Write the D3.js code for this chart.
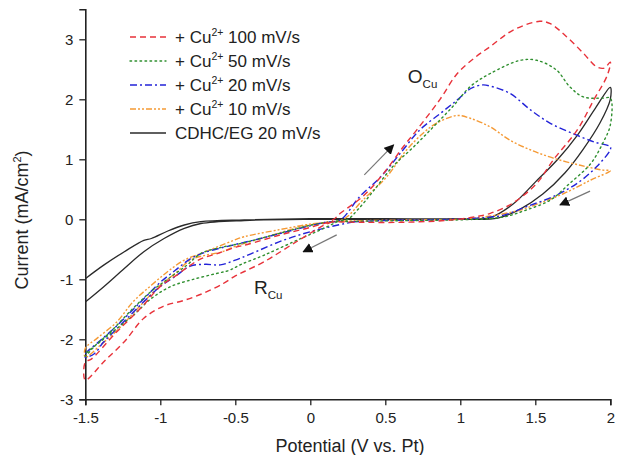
<!DOCTYPE html>
<html>
<head>
<meta charset="utf-8">
<script src="https://cdn.jsdelivr.net/npm/d3@7/dist/d3.min.js"></script>
<style>
    body { margin: 0; background: #fff; }
    svg text { font-family: "Liberation Sans", Arial, sans-serif; }
</style>
</head>
<body>
<div id="chart"></div>
<script>
// Cyclic voltammograms, [potential V, current mA/cm2] in scan order
const red100 = [
    [0.15, -0.04], [0.09, -0.1], [-0.09, -0.37], [-0.31, -0.71], [-0.44, -0.87], [-0.51, -0.96],
    [-0.58, -1.07], [-0.71, -1.23], [-0.84, -1.35], [-0.98, -1.45], [-1.11, -1.65], [-1.24, -2.04],
    [-1.375, -2.37], [-1.5, -2.68],
    [-1.5, -2.38], [-1.46, -2.33], [-1.3, -1.9], [-1.13, -1.48], [-1.0, -1.12], [-0.89, -0.93],
    [-0.82, -0.8], [-0.73, -0.66], [-0.62, -0.57], [-0.49, -0.46], [-0.42, -0.42], [-0.2, -0.26],
    [0.02, -0.12], [0.15, -0.01],
    [0.2, 0.1], [0.35, 0.38], [0.49, 0.77], [0.62, 1.21], [0.71, 1.49], [0.865, 2.0], [0.98, 2.43],
    [1.1, 2.7], [1.2, 2.88], [1.35, 3.15], [1.53, 3.3], [1.6, 3.26], [1.71, 3.04], [1.82, 2.77],
    [1.91, 2.54], [1.96, 2.52], [2.0, 2.62],
    [1.98, 2.4], [1.89, 1.99], [1.78, 1.49], [1.62, 0.99], [1.51, 0.6], [1.35, 0.27], [1.2, 0.1],
    [1.07, 0.03], [0.9, -0.02], [0.6, -0.05], [0.35, -0.05], [0.15, -0.04]
];
const green50 = [
    [0.18, -0.04], [0.09, -0.15], [-0.09, -0.35], [-0.31, -0.6], [-0.46, -0.75], [-0.54, -0.85],
    [-0.62, -0.9], [-0.78, -1.0], [-0.93, -1.12], [-1.06, -1.32], [-1.18, -1.6], [-1.29, -1.82],
    [-1.4, -2.04], [-1.5, -2.25],
    [-1.5, -2.28], [-1.44, -2.12], [-1.33, -1.87], [-1.18, -1.48], [-1.06, -1.2], [-0.93, -0.96],
    [-0.82, -0.76], [-0.73, -0.57], [-0.58, -0.46], [-0.46, -0.4], [-0.2, -0.23], [0.0, -0.1],
    [0.2, -0.02],
    [0.25, 0.0], [0.32, 0.17], [0.42, 0.47], [0.55, 0.88], [0.69, 1.21], [0.82, 1.54], [0.95, 1.88],
    [1.07, 2.22], [1.2, 2.43], [1.4, 2.65], [1.51, 2.65], [1.64, 2.49], [1.73, 2.21], [1.82, 2.04],
    [1.95, 2.02], [2.0, 2.02],
    [2.0, 1.57], [1.95, 1.27], [1.87, 0.93], [1.73, 0.6], [1.6, 0.32], [1.44, 0.155], [1.29, 0.04],
    [1.1, 0.0], [0.7, -0.02], [0.4, -0.03], [0.18, -0.04]
];
const blue20 = [
    [0.29, -0.04], [0.04, -0.18], [-0.18, -0.35], [-0.4, -0.58], [-0.5, -0.68], [-0.6, -0.76],
    [-0.7, -0.75], [-0.8, -0.78], [-0.9, -0.95], [-1.0, -1.12], [-1.1, -1.35], [-1.2, -1.6],
    [-1.3, -1.85], [-1.38, -2.05], [-1.44, -2.24], [-1.5, -2.3],
    [-1.5, -2.25], [-1.4, -2.02], [-1.3, -1.8], [-1.2, -1.55], [-1.1, -1.3], [-1.0, -1.05],
    [-0.9, -0.85], [-0.8, -0.66], [-0.7, -0.55], [-0.5, -0.42], [-0.3, -0.3], [-0.1, -0.17],
    [0.1, -0.05], [0.2, -0.01],
    [0.33, 0.38], [0.47, 0.71], [0.6, 1.1], [0.73, 1.49], [0.87, 1.77], [0.98, 1.99], [1.07, 2.18],
    [1.15, 2.24], [1.2, 2.22], [1.33, 2.1], [1.47, 1.82], [1.6, 1.6], [1.75, 1.43], [1.89, 1.29],
    [2.0, 1.21],
    [2.0, 1.16], [1.91, 0.88], [1.78, 0.6], [1.62, 0.38], [1.44, 0.21], [1.29, 0.07], [1.11, 0.02],
    [0.8, -0.01], [0.5, -0.02], [0.29, -0.04]
];
const orange10 = [
    [0.2, -0.03], [0.1, -0.05], [-0.1, -0.15], [-0.3, -0.3], [-0.5, -0.45], [-0.6, -0.55],
    [-0.7, -0.6], [-0.8, -0.68], [-0.9, -0.9], [-1.0, -1.1], [-1.1, -1.35], [-1.2, -1.62],
    [-1.3, -1.88], [-1.4, -2.1], [-1.5, -2.3],
    [-1.5, -2.15], [-1.42, -1.98], [-1.29, -1.71], [-1.18, -1.37], [-1.06, -1.1], [-0.95, -0.87],
    [-0.84, -0.68], [-0.73, -0.57], [-0.62, -0.46], [-0.51, -0.35], [-0.44, -0.29], [-0.2, -0.17],
    [0.0, -0.08], [0.2, -0.02],
    [0.25, 0.05], [0.35, 0.32], [0.51, 0.71], [0.64, 1.15], [0.75, 1.43], [0.84, 1.6], [0.98, 1.73],
    [1.07, 1.68], [1.2, 1.54], [1.33, 1.32], [1.47, 1.155], [1.62, 1.02], [1.8, 0.9], [1.95, 0.82],
    [2.0, 0.81],
    [1.87, 0.655], [1.69, 0.43], [1.53, 0.27], [1.4, 0.155], [1.24, 0.07], [1.05, 0.01],
    [0.7, -0.01], [0.4, -0.02], [0.2, -0.03]
];
const blackBlank = [
    [-1.5, -1.38], [-1.375, -1.12], [-1.24, -0.82], [-1.11, -0.54], [-0.975, -0.32], [-0.84, -0.15],
    [-0.73, -0.07], [-0.44, -0.02], [0.0, 0.0], [0.5, 0.0], [1.0, 0.0], [1.25, 0.02],
    [1.4, 0.17], [1.55, 0.42], [1.7, 0.78], [1.82, 1.17], [1.93, 1.6], [2.0, 2.0],
    [2.0, 2.2], [1.9, 1.85], [1.78, 1.4], [1.65, 1.0], [1.5, 0.62], [1.35, 0.25], [1.2, 0.03],
    [1.0, 0.01], [0.5, 0.01], [0.0, 0.01], [-0.44, -0.01], [-0.73, -0.04], [-0.84, -0.095],
    [-0.95, -0.195], [-1.06, -0.32], [-1.11, -0.35], [-1.24, -0.54], [-1.375, -0.76], [-1.5, -0.99]
];

const seriesNames = ["100 mV/s", "50 mV/s", "20 mV/s", "10 mV/s", "CDHC/EG 20 mV/s"];
const seriesData = [red100, green50, blue20, orange10, blackBlank];
const seriesColors = ["#e8323a", "#2f8f2f", "#2323d8", "#f59a35", "#2a2a2a"];
const seriesDash = ["6,4", "1.6,3.4", "7,3,2,3", "6,2,2,2,2,2", null];

const xTicks = [-1.5, -1, -0.5, 0, 0.5, 1, 1.5, 2];
const yTicks = [-3, -2, -1, 0, 1, 2, 3];

// annotations in data units
const arrows = [
    {from: [0.36, 0.74], to: [0.555, 1.24]},
    {from: [1.865, 0.47], to: [1.665, 0.24]},
    {from: [0.176, -0.26], to: [-0.047, -0.54]}
];
const labels = [
    {main: "O", sub: "Cu", at: [0.65, 2.27]},
    {main: "R", sub: "Cu", at: [-0.375, -1.245]}
];

const width = 617, height = 455;
const margin = {top: 9.3, right: 6.7, bottom: 55.7, left: 85.3};

const svg = d3.select("#chart").append("svg")
    .attr("width", width)
    .attr("height", height);

const x = d3.scaleLinear()
    .domain([-1.5, 2])
    .range([margin.left, width - margin.right]);

const y = d3.scaleLinear()
    .domain([-3, 3.5])
    .range([height - margin.bottom, margin.top]);

// plain hyphen for negatives, like the original
const fmt = d => String(d);

// Axes, major + minor ticks
const gx = svg.append("g")
    .attr("transform", "translate(0," + y(-3) + ")");
gx.call(d3.axisBottom(x).tickValues(d3.range(-1.25, 2, 0.5)).tickSize(4).tickFormat(""));
gx.call(d3.axisBottom(x).tickValues(xTicks).tickSize(6).tickPadding(7).tickFormat(fmt));

const gy = svg.append("g")
    .attr("transform", "translate(" + x(-1.5) + ",0)");
gy.call(d3.axisLeft(y).tickValues(d3.range(-2.5, 3.5, 1)).tickSize(4).tickFormat(""));
gy.call(d3.axisLeft(y).tickValues(yTicks).tickSize(6).tickPadding(6).tickFormat(fmt));

svg.selectAll(".domain")
    .attr("stroke", "#222")
    .attr("stroke-width", 1.6);
svg.selectAll(".tick line")
    .attr("stroke", "#222")
    .attr("stroke-width", 1.3);
svg.selectAll(".tick text")
    .attr("font-size", 15)
    .attr("fill", "#222")
    .attr("font-family", "Liberation Sans, Arial, sans-serif");

// axis titles
svg.append("text")
    .attr("x", 350)
    .attr("y", 452)
    .attr("text-anchor", "middle")
    .attr("font-size", 18)
    .attr("fill", "#222")
    .text("Potential (V vs. Pt)");

const yt = svg.append("text")
    .attr("transform", "translate(28,220) rotate(-90)")
    .attr("text-anchor", "middle")
    .attr("font-size", 18)
    .attr("fill", "#222");
yt.append("tspan").text("Current (mA/cm");
yt.append("tspan").attr("font-size", 11).attr("dy", -7).text("2");
yt.append("tspan").attr("dy", 7).text(")");

// curves
const line = d3.line()
    .x(d => x(d[0]))
    .y(d => y(d[1]))
    .curve(d3.curveCatmullRom.alpha(0.5));

// draw black first so the coloured ones sit on top
[4, 3, 2, 1, 0].forEach(function (i) {
    svg.append("path")
        .datum(seriesData[i])
        .attr("fill", "none")
        .attr("stroke", seriesColors[i])
        .attr("stroke-width", i === 4 ? 1.3 : 1.4)
        .attr("stroke-dasharray", seriesDash[i])
        .attr("stroke-linecap", i === 1 ? "round" : "butt")
        .attr("d", line);
});

// legend
const legend = svg.append("g");
seriesNames.forEach(function (name, i) {
    const ly = 37 + i * 24;
    legend.append("line")
        .attr("x1", 130).attr("x2", 166)
        .attr("y1", ly).attr("y2", ly)
        .attr("stroke", seriesColors[i])
        .attr("stroke-width", 1.4)
        .attr("stroke-linecap", i === 1 ? "round" : "butt")
        .attr("stroke-dasharray", seriesDash[i]);
    const t = legend.append("text")
        .attr("x", 175)
        .attr("y", ly + 6)
        .attr("font-size", 17)
        .attr("fill", "#222");
    if (i < 4) {
        t.append("tspan").text("+ Cu");
        t.append("tspan").attr("font-size", 10.5).attr("dy", -7).text("2+");
        t.append("tspan").attr("dy", 7).text(" " + name);
    } else {
        t.text(name);
    }
});

// arrows
svg.append("defs").append("marker")
    .attr("id", "head")
    .attr("viewBox", "0 0 10 10")
    .attr("refX", 9).attr("refY", 5)
    .attr("markerWidth", 10).attr("markerHeight", 10)
    .attr("markerUnits", "userSpaceOnUse")
    .attr("orient", "auto")
    .append("path")
    .attr("d", "M0,0 L10,5 L0,10 Z")
    .attr("fill", "#111");

arrows.forEach(function (a) {
    svg.append("line")
        .attr("x1", x(a.from[0])).attr("y1", y(a.from[1]))
        .attr("x2", x(a.to[0])).attr("y2", y(a.to[1]))
        .attr("stroke", "#777")
        .attr("stroke-width", 1.2)
        .attr("marker-end", "url(#head)");
});

// peak labels
labels.forEach(function (l) {
    const t = svg.append("text")
        .attr("x", x(l.at[0]))
        .attr("y", y(l.at[1]))
        .attr("font-size", 19)
        .attr("fill", "#222");
    t.append("tspan").text(l.main);
    t.append("tspan").attr("font-size", 11.5).attr("dy", 5).text(l.sub);
});
</script>
</body>
</html>
